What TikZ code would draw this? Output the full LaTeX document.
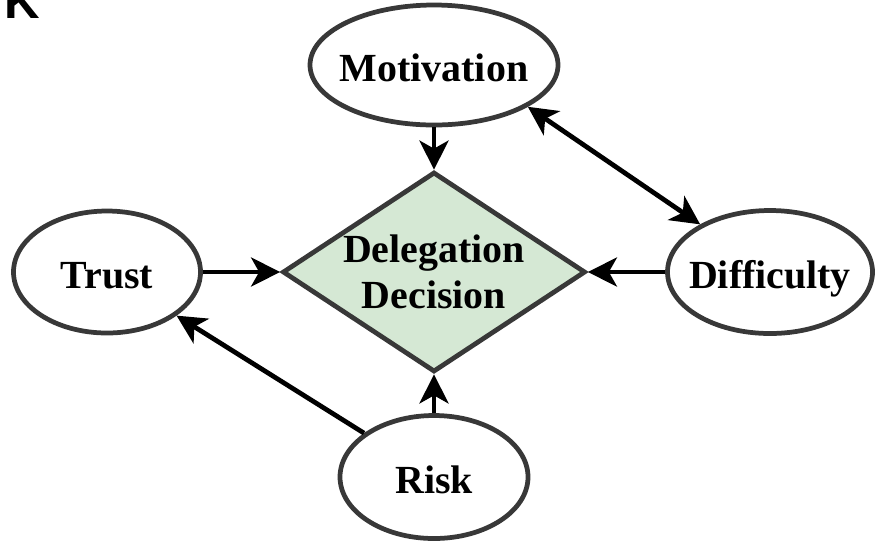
\documentclass[tikz,border=0pt]{standalone}
\usepackage{fontspec}
\setmainfont{Liberation Serif}
\newfontfamily\panelfont{Liberation Sans}
\usetikzlibrary{shapes.geometric,arrows.meta}
\definecolor{edgegray}{HTML}{383838}
\definecolor{decgreen}{HTML}{D5E8D4}
\begin{document}
\begin{tikzpicture}[
  >={Stealth[length=0.58cm, width=0.58cm, inset=0.16cm]},
  factor/.style={ellipse, draw=edgegray, line width=2.7pt, fill=white,
    inner xsep=-1cm, inner ysep=0pt, text height=0.67cm, text depth=0pt,
    font=\fontsize{22.7}{26}\selectfont\bfseries},
  link/.style={->, line width=2.7pt, black}
]
\useasboundingbox (0,0) rectangle (17.5,-10.84);

% Panel letter (cut at the top)
\node[anchor=base west, inner sep=0pt, font=\panelfont\bfseries\fontsize{28}{28}\selectfont] (panel) at (0.09,-0.36) {K};

% Central decision
\node[diamond, aspect=1.5, draw=edgegray, fill=decgreen, line width=2.7pt,
  minimum width=6.06cm, minimum height=4cm, inner xsep=-1.2cm, inner ysep=-0.5cm,
  align=center, font=\fontsize{22.7}{26}\selectfont\bfseries] (decision) at (8.68,-5.44) {Delegation\\Decision};

% Factors
\node[factor, minimum width=4.96cm, minimum height=2.4cm] (motivation) at (8.68,-1.30) {Motivation};
\node[factor, minimum width=3.74cm, minimum height=2.44cm] (trust) at (2.14,-5.44) {Trust};
\node[factor, minimum width=4.1cm, minimum height=2.46cm] (difficulty) at (15.4,-5.44) {Difficulty};
\node[factor, minimum width=3.76cm, minimum height=2.46cm] (risk) at (8.68,-9.54) {Risk};

% Arrows into the decision
\draw[link] (motivation) -- (decision);
\draw[link] (trust) -- (decision);
\draw[link] (difficulty) -- (decision);
\draw[link] (risk) -- (decision);

% Links between factors
\draw[link] (risk) -- (trust);
\draw[link, <->] (motivation.-24) -- (difficulty);
\end{tikzpicture}
\end{document}
